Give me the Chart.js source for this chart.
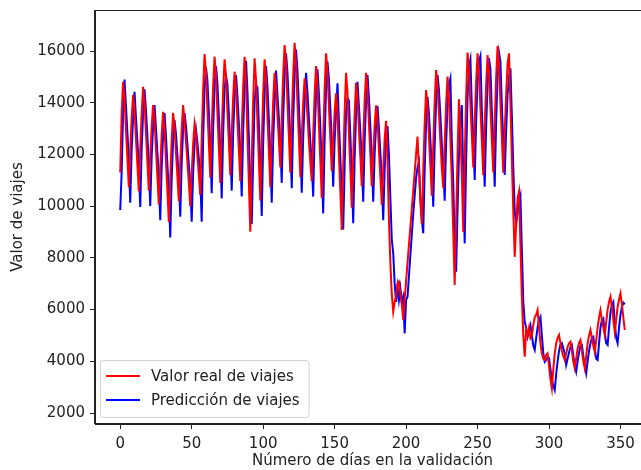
<!DOCTYPE html>
<html lang="es">
<head>
<meta charset="UTF-8">
<title>Valor real vs predicción de viajes</title>
<script src="https://cdn.jsdelivr.net/npm/chart.js"></script>
<style>
  html, body { margin: 0; padding: 0; background: #fff; overflow: hidden; }
  #wrap { width: 660px; height: 470px; }
</style>
</head>
<body>
<div id="wrap"><canvas id="tripsChart" width="660" height="470"></canvas></div>
<script>
// roughly one row per week of the validation period (days 0..353)
const realTrips = [
  11300, 13610, 14810, 14200, 12970, 11870, 10730,
  12160, 13410, 14300, 13740, 12620, 11610, 10570,
  12190, 13610, 14620, 14020, 12810, 11730, 10600,
  11920, 13080, 13910, 13330, 12180, 11140, 10060,
  11500, 12750, 13650, 13010, 11730, 10580, 9390,
  11080, 12560, 13610, 13100, 12070, 11150, 10190,
  11680, 12980, 13910, 13320, 12500, 11700, 10900, 10000,
  11270, 12380, 13170, 12760, 11940, 11200, 10430,
  12610, 14520, 15880, 15160, 13730, 12440, 11100,
  12970, 14610, 15780, 15050, 13580, 12270, 10900,
  12810, 14490, 15680, 15010, 13660, 12450, 11200,
  12800, 14200, 15200, 14570, 13300, 12150, 10970,
  12890, 14580, 15780, 14760, 12730, 10910, 9010,
  11690, 14040, 15720, 14900, 13250, 11760, 10220,
  12400, 14320, 15680, 14940, 13450, 12120, 10730,
  12500, 14050, 15160, 14610, 13510, 12530, 11500,
  13390, 15050, 16230, 15490, 14010, 12670, 11290,
  13300, 15060, 16320, 15540, 13980, 12580, 11120,
  12650, 13990, 14940, 14340, 13500, 12500, 11700, 10970,
  12750, 14310, 15420, 14660, 13130, 11750, 10320,
  12560, 14510, 15910, 15230, 13860, 12630, 11350,
  12550, 13610, 14360, 13570, 11980, 10560, 9080,
  11510, 13640, 15160, 14380, 12810, 11400, 9940,
  11870, 13560, 14770, 14170, 12970, 11890, 10770,
  12530, 14060, 15160, 14500, 13180, 12000, 10770,
  12020, 13120, 13900, 13320, 12170, 11140, 10060,
  11400, 12600, 13300, 11800, 9460, 7800, 6600,
  5920, 6300, 6500, 7000, 7080, 6600, 6200,
  5600, 6400, 7100, 7800, 8500, 9200, 9900,
  10600, 11300, 12000, 12690, 11400, 10200, 9300,
  11380, 13190, 14490, 13880, 12650, 11550, 10400,
  12340, 14050, 15260, 14580, 13600, 12500, 11500, 10700,
  12420, 13930, 15010, 14200, 12600, 11000, 9000,
  6950, 9500, 12000, 14130, 13000, 11200, 9000,
  11780, 14210, 15940, 15270, 13940, 12740, 11500,
  13260, 14810, 15910, 15200, 13790, 12520, 11200,
  13060, 14680, 15840, 15160, 13800, 12570, 11300,
  13260, 14970, 16190, 15460, 13990, 12660, 11290,
  12900, 14300, 15500, 15910, 14000, 11800, 9800,
  8040, 9300, 10300, 10570, 8500, 6500, 5000,
  4180, 5200, 5000, 5300, 4900, 5000, 5400,
  5700, 5800, 5980, 5300, 4700, 4300, 4100,
  4050, 4250, 4310, 3800, 3300, 2950, 3700,
  4300, 4700, 4900, 5020, 4700, 4400, 4200, 4050,
  4300, 4550, 4700, 4760, 4400, 4000, 3730,
  4100, 4500, 4700, 4820, 4400, 4000, 3730,
  4200, 4700, 5000, 5210, 4900, 4600, 4370,
  4800, 5300, 5700, 5980, 5600, 5300, 5020,
  5500, 6000, 6300, 6500, 6100, 5600, 5140,
  5600, 6100, 6400, 6630, 6200, 5700, 5210
];

const predictedTrips = [
  9850, 11300, 13610, 14900, 13900, 12870, 11770,
  10130, 12160, 13410, 14420, 13440, 12520, 11510,
  9970, 12190, 13610, 14520, 13720, 12710, 11630,
  10000, 11920, 13080, 13910, 13030, 12080, 11040,
  9460, 11500, 12750, 13600, 12710, 11630, 10480,
  8790, 11080, 12560, 13330, 12800, 11970, 11050,
  9590, 11680, 12980, 13600, 13100, 12400, 11600, 10900,
  9400, 11270, 12380, 12970, 12460, 11840, 11100,
  9400, 12610, 14520, 15370, 14860, 13630, 12340,
  10500, 12970, 14610, 15420, 14750, 13480, 12170,
  10300, 12810, 14490, 15030, 14710, 13560, 12350,
  10600, 12800, 14200, 15070, 14270, 13200, 12050,
  10370, 12890, 14580, 15620, 14460, 12630, 10810,
  9310, 11690, 14040, 14680, 14600, 13150, 11660,
  9620, 12400, 14320, 15420, 14640, 13350, 12020,
  10130, 12500, 14050, 15240, 14310, 13410, 12430,
  10900, 13390, 15050, 15910, 15190, 13910, 12570,
  10690, 13300, 15060, 16060, 15240, 13880, 12480,
  10520, 12650, 13990, 15160, 14400, 13400, 12500, 11700,
  10370, 12750, 14310, 15290, 14360, 13030, 11650,
  9720, 12560, 14510, 15590, 14930, 13760, 12530,
  10750, 12550, 13610, 14750, 13270, 11880, 10460,
  9100, 11510, 13640, 14170, 14080, 12710, 11300,
  9340, 11870, 13560, 14810, 13870, 12870, 11790,
  10170, 12530, 14060, 15070, 14200, 13080, 11900,
  10170, 12020, 13120, 13870, 13020, 12070, 11040,
  9460, 11400, 12600, 13100, 12000, 10300, 8690,
  8180, 7020, 6300, 6880, 6370, 6820, 6300,
  6500, 5080, 6370, 6500, 7300, 8100, 8900,
  9700, 10400, 11100, 11500, 11720, 10300, 9500,
  8950, 11380, 13190, 14230, 13580, 12550, 11450,
  9980, 12340, 14050, 15070, 14500, 13500, 12400, 11500,
  10210, 12420, 13930, 14700, 14940, 12500, 10900,
  8500, 7460, 9800, 12000, 13300, 13910, 11200,
  8560, 11780, 14210, 15400, 15680, 13840, 12640,
  11010, 13260, 14810, 15600, 15810, 13690, 12420,
  10750, 13060, 14680, 15720, 15300, 13700, 12470,
  10750, 13260, 14970, 15940, 15600, 13890, 12560,
  11210, 12900, 14300, 15000, 15330, 13500, 11500,
  9800, 9340, 9700, 10100, 10370, 8300, 6300,
  5530, 5300, 4950, 5200, 5400, 5000, 4600,
  4440, 4900, 5300, 5600, 5720, 5000, 4300,
  3980, 4050, 4150, 4120, 3700, 3300, 3050,
  2890, 3500, 4000, 4400, 4650, 4700, 4500, 4300,
  3860, 4100, 4350, 4550, 4630, 4200, 3850,
  3600, 4000, 4350, 4600, 4630, 4200, 3850,
  3540, 4000, 4400, 4700, 4900, 4950, 4500,
  4100, 4050, 4700, 5300, 5600, 5660, 5100,
  4700, 4630, 5300, 5900, 6200, 6300, 5500,
  4900, 4700, 5300, 5800, 6100, 6270, 6200
];

const xTicks = [0, 50, 100, 150, 200, 250, 300, 350];
const yTicks = [2000, 4000, 6000, 8000, 10000, 12000, 14000, 16000];
const seriesNames = ['Valor real de viajes', 'Predicción de viajes'];

const FONT = { family: '"DejaVu Sans", sans-serif', size: 15 };
const INK = '#222';

const toPoints = arr => arr.map((v, i) => ({ x: i, y: v }));
const lastDay = realTrips.length - 1;
const xPad = lastDay * 0.05;

const noScalePadding = s => { s.paddingTop = 0; s.paddingBottom = 0; s.paddingLeft = 0; s.paddingRight = 0; };

// top/right spines like matplotlib's box
const frame = {
  id: 'frame',
  afterDatasetsDraw(chart) {
    const { ctx, chartArea: a } = chart;
    ctx.save();
    ctx.strokeStyle = INK;
    ctx.lineWidth = 1;
    ctx.strokeRect(Math.round(a.left) - 0.5, Math.round(a.top) + 0.5,
                   Math.round(a.right - a.left), Math.round(a.bottom - a.top) - 1);
    ctx.restore();
  }
};

// legend box in the lower-left corner of the axes
const legendBox = {
  id: 'legendBox',
  afterDraw(chart) {
    const { ctx, chartArea: a } = chart;
    const sets = chart.data.datasets;
    ctx.save();
    ctx.font = FONT.size + 'px ' + FONT.family;
    const textW = Math.max(...sets.map(d => ctx.measureText(d.label).width));
    const x0 = a.left + 5, h = 57, y0 = a.bottom - 7 - h;
    const w = 51 + textW + 9;
    ctx.beginPath();
    ctx.roundRect(x0 + 0.5, y0 + 0.5, w, h, 3);
    ctx.fillStyle = 'rgba(255,255,255,0.8)';
    ctx.fill();
    ctx.strokeStyle = '#d3d3d3';
    ctx.lineWidth = 1;
    ctx.stroke();
    sets.forEach((d, i) => {
      const y = y0 + 16 + i * 24;
      ctx.strokeStyle = d.borderColor;
      ctx.lineWidth = 2;
      ctx.beginPath();
      ctx.moveTo(x0 + 6, y);
      ctx.lineTo(x0 + 40, y);
      ctx.stroke();
      ctx.fillStyle = INK;
      ctx.textBaseline = 'middle';
      ctx.fillText(d.label, x0 + 51, y + 1);
    });
    ctx.restore();
  }
};

new Chart(document.getElementById('tripsChart'), {
  type: 'line',
  data: {
    datasets: [
      { label: seriesNames[0], data: toPoints(realTrips), borderColor: '#ff0000', borderWidth: 2 },
      { label: seriesNames[1], data: toPoints(predictedTrips), borderColor: '#0000ff', borderWidth: 2 }
    ]
  },
  options: {
    responsive: false,
    animation: false,
    devicePixelRatio: 1,
    layout: { padding: { top: 10, right: 10, left: 0, bottom: 0 } },
    elements: { point: { radius: 0 }, line: { tension: 0 } },
    plugins: { legend: { display: false }, tooltip: { enabled: false } },
    scales: {
      x: {
        type: 'linear',
        min: -xPad,
        max: lastDay + xPad,
        afterBuildTicks: s => { s.ticks = xTicks.map(v => ({ value: v })); },
        afterFit: s => { s.height = 46; noScalePadding(s); },
        ticks: { color: INK, font: FONT, padding: 6, maxRotation: 0, callback: v => String(v) },
        grid: { drawOnChartArea: false, drawTicks: true, tickLength: 5, tickColor: INK },
        border: { display: true, color: INK },
        title: { display: true, text: 'Número de días en la validación', color: INK, font: FONT, padding: { top: 0, bottom: 0 } }
      },
      y: {
        min: 1575,
        max: 17586,
        afterBuildTicks: s => { s.ticks = yTicks.map(v => ({ value: v })); },
        afterFit: s => { s.width = 95; noScalePadding(s); },
        ticks: { color: INK, font: FONT, padding: 5, callback: v => String(v) },
        grid: { drawOnChartArea: false, drawTicks: true, tickLength: 5, tickColor: INK },
        border: { display: true, color: INK },
        title: { display: true, text: 'Valor de viajes', color: INK, font: FONT, padding: { top: 9, bottom: 0 } }
      }
    }
  },
  plugins: [frame, legendBox]
});
</script>
</body>
</html>
